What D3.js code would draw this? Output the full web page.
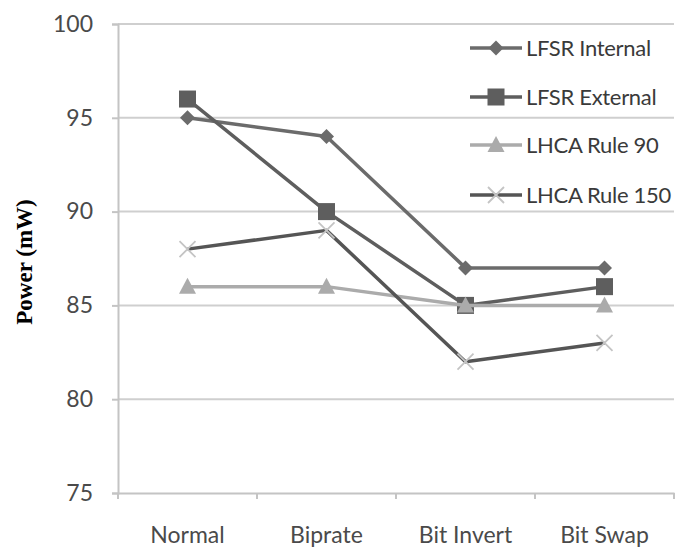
<!DOCTYPE html>
<html><head><meta charset="utf-8">
<script src="https://cdn.jsdelivr.net/npm/d3@7"></script>
<style>html,body{margin:0;padding:0;background:#fff;}svg{display:block;}</style>
</head><body>
<svg id="chart" width="680" height="548"></svg>
<script>
const categories = ["Normal", "Biprate", "Bit Invert", "Bit Swap"];
const seriesNames = ["LFSR Internal", "LFSR External", "LHCA Rule 90", "LHCA Rule 150"];
const lfsrInternal = [95, 94, 87, 87];
const lfsrExternal = [96, 90, 85, 86];
const lhcaRule90 = [86, 86, 85, 85];
const lhcaRule150 = [88, 89, 82, 83];
const yTicks = [75, 80, 85, 90, 95, 100];

const seriesValues = [lfsrInternal, lfsrExternal, lhcaRule90, lhcaRule150];
const styles = [
  {line: "#6b6b6b", marker: "#6b6b6b", shape: "diamond"},
  {line: "#5e5e5e", marker: "#5e5e5e", shape: "square"},
  {line: "#ababab", marker: "#ababab", shape: "triangle"},
  {line: "#555555", marker: "#c4c4c4", shape: "x"}
];

const svg = d3.select("#chart");
const mLeft = 118, mRight = 674, mTop = 24, mBottom = 493;
const font = "Lato, 'Open Sans', sans-serif";

const x = d3.scaleBand().domain(categories).range([mLeft, mRight]);
const y = d3.scaleLinear().domain([75, 100]).range([mBottom, mTop]);

// gridlines
svg.append("g").selectAll("line").data(yTicks.filter(t => t !== 75)).join("line")
  .attr("x1", mLeft).attr("x2", mRight)
  .attr("y1", d => y(d)).attr("y2", d => y(d))
  .attr("stroke", "#cfcfcf").attr("stroke-width", 2);

// y axis
const yAxis = svg.append("g").attr("transform", `translate(${mLeft},0)`)
  .call(d3.axisLeft(y).tickValues(yTicks).tickSize(6).tickPadding(19));
yAxis.select(".domain").attr("stroke", "#c4c4c4").attr("stroke-width", 2);
yAxis.selectAll(".tick line").attr("stroke", "#c4c4c4").attr("stroke-width", 2);
yAxis.selectAll(".tick text").attr("fill", "#4a4a4a").attr("font-family", font)
  .attr("font-size", 23);

// x axis
const xAxis = svg.append("g").attr("transform", `translate(0,${mBottom})`)
  .call(d3.axisBottom(x).tickSize(0).tickPadding(34));
xAxis.select(".domain").attr("stroke", "#c4c4c4").attr("stroke-width", 2);
xAxis.selectAll(".tick text").attr("fill", "#4a4a4a").attr("font-family", font)
  .attr("font-size", 23);
// category boundary ticks
svg.append("g").selectAll("line").data(categories).join("line")
  .attr("x1", d => x(d)).attr("x2", d => x(d))
  .attr("y1", mBottom).attr("y2", mBottom + 6)
  .attr("stroke", "#c4c4c4").attr("stroke-width", 2);
svg.append("line").attr("x1", mRight).attr("x2", mRight).attr("y1", mBottom).attr("y2", mBottom + 6)
  .attr("stroke", "#c4c4c4").attr("stroke-width", 2);

// y title
svg.append("text")
  .attr("transform", "translate(32,262) rotate(-90)")
  .attr("text-anchor", "middle")
  .attr("font-family", "'Liberation Serif', 'Times New Roman', serif")
  .attr("font-weight", "bold").attr("font-size", 23).attr("fill", "#000")
  .text("Power (mW)");

function drawMarker(g, shape, cx, cy, color) {
  if (shape === "diamond") {
    g.append("path").attr("d", `M${cx},${cy-7.5}L${cx+7.5},${cy}L${cx},${cy+7.5}L${cx-7.5},${cy}Z`).attr("fill", color);
  } else if (shape === "square") {
    g.append("rect").attr("x", cx-8.5).attr("y", cy-8.5).attr("width", 17).attr("height", 17).attr("fill", color);
  } else if (shape === "triangle") {
    g.append("path").attr("d", `M${cx},${cy-9}L${cx+8.5},${cy+7}L${cx-8.5},${cy+7}Z`).attr("fill", color);
  } else {
    g.append("path").attr("d", `M${cx-8},${cy-8}L${cx+8},${cy+8}M${cx-8},${cy+8}L${cx+8},${cy-8}`)
      .attr("stroke", color).attr("stroke-width", 1.8).attr("fill", "none");
  }
}

const cx = d => x(d) + x.bandwidth() / 2;
const line = d3.line().x(d => cx(d.c)).y(d => y(d.v));

seriesValues.forEach((vals, i) => {
  const g = svg.append("g");
  const pts = categories.map((c, j) => ({c, v: vals[j]}));
  g.append("path").attr("d", line(pts)).attr("fill", "none")
    .attr("stroke", styles[i].line).attr("stroke-width", 3.5).attr("stroke-linejoin", "round");
  pts.forEach(p => drawMarker(g, styles[i].shape, cx(p.c), y(p.v), styles[i].marker));
});

// legend
const legendY = [48, 97, 145, 195];
seriesNames.forEach((name, i) => {
  const g = svg.append("g");
  g.append("line").attr("x1", 470).attr("x2", 522).attr("y1", legendY[i]).attr("y2", legendY[i])
    .attr("stroke", styles[i].line).attr("stroke-width", 3.5);
  drawMarker(g, styles[i].shape, 496, legendY[i], styles[i].marker);
  g.append("text").attr("x", 526).attr("y", legendY[i]).attr("dy", "0.35em")
    .attr("font-family", font).attr("font-size", 22)
    .attr("letter-spacing", -0.3)
    .attr("fill", "#3a3a3a").text(name);
});
</script>
</body></html>
